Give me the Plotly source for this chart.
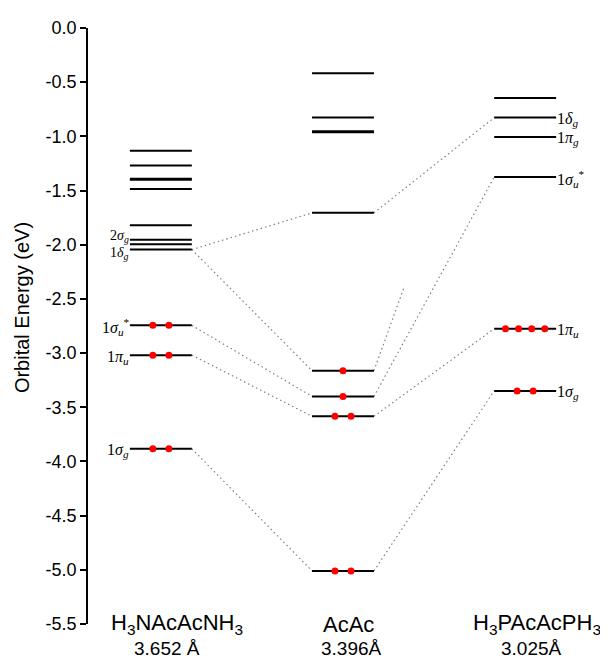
import plotly.graph_objects as go

# ---------------- data ----------------
columns = [1, 2, 3]
col_names = ["H<sub>3</sub>NAcAcNH<sub>3</sub>", "AcAc", "H<sub>3</sub>PAcAcPH<sub>3</sub>"]
col_dist = ["3.652 Å", "3.396Å", "3.025Å"]

left_E = [-1.133, -1.270, -1.390, -1.400, -1.486, -1.820, -1.953, -1.996, -2.045, -2.744, -3.019, -3.883]
left_occ = [0, 0, 0, 0, 0, 0, 0, 0, 0, 2, 2, 2]
mid_E = [-0.418, -0.827, -0.952, -0.963, -1.706, -3.162, -3.400, -3.583, -5.010]
mid_occ = [0, 0, 0, 0, 0, 1, 1, 2, 2]
right_E = [-0.647, -0.827, -1.005, -1.376, -2.775, -3.349]
right_occ = [0, 0, 0, 0, 4, 2]

# correlation lines: (from column, from energy, to column, to energy)
links = [
    (1, -2.045, 2, -1.706),
    (1, -2.045, 2, -3.162),
    (1, -2.744, 2, -3.400),
    (1, -3.019, 2, -3.583),
    (1, -3.883, 2, -5.010),
    (2, -1.706, 3, -0.827),
    (2, -3.400, 3, -1.376),
    (2, -3.583, 3, -2.775),
    (2, -5.010, 3, -3.349),
]
# stray dotted segment starting at AcAc -3.162 and ending mid-air
stray = (2, -3.162, 2.338, -2.38)

left_labels_E = [-1.953, -2.045, -2.744, -3.019, -3.883]
left_labels = ["2<i>σ</i><sub><i>g</i></sub>", "1<i>δ</i><sub><i>g</i></sub>",
               "1<i>σ</i><sub><i>u</i></sub><sup>*</sup>", "1<i>π</i><sub><i>u</i></sub>",
               "1<i>σ</i><sub><i>g</i></sub>"]
right_labels_E = [-0.827, -1.005, -1.376, -2.775, -3.349]
right_labels = ["1<i>δ</i><sub><i>g</i></sub>", "1<i>π</i><sub><i>g</i></sub>",
                "1<i>σ</i><sub><i>u</i></sub><sup>*</sup>", "1<i>π</i><sub><i>u</i></sub>",
                "1<i>σ</i><sub><i>g</i></sub>"]

y_ticks = [0.0, -0.5, -1.0, -1.5, -2.0, -2.5, -3.0, -3.5, -4.0, -4.5, -5.0, -5.5]
y_ticktext = ["0.0", "-0.5", "-1.0", "-1.5", "-2.0", "-2.5", "-3.0", "-3.5", "-4.0", "-4.5", "-5.0", "-5.5"]

# ---------------- figure ----------------
HALF = 0.17
fig = go.Figure()

# dotted correlation lines
lx, ly = [], []
for c1, e1, c2, e2 in links:
    lx += [c1 + HALF, c2 - HALF, None]
    ly += [e1, e2, None]
lx += [stray[0] + HALF, stray[2], None]
ly += [stray[1], stray[3], None]
fig.add_trace(go.Scatter(x=lx, y=ly, mode="lines",
                         line=dict(color="#808080", width=1.2, dash="1.5px,3px"),
                         hoverinfo="skip", showlegend=False))

# levels and electrons
dx, dy = [], []
for col, Es, occs in [(1, left_E, left_occ), (2, mid_E, mid_occ), (3, right_E, right_occ)]:
    xs, ys = [], []
    for e, n in zip(Es, occs):
        xs += [col - HALF, col + HALF, None]
        ys += [e, e, None]
        if n > 0:
            sp = 0.088 if n <= 2 else 0.072
            for k in range(n):
                dx.append(col + (k - (n - 1) / 2) * sp)
                dy.append(e)
    fig.add_trace(go.Scatter(x=xs, y=ys, mode="lines",
                             line=dict(color="black", width=2),
                             hoverinfo="skip", showlegend=False))

fig.add_trace(go.Scatter(x=dx, y=dy, mode="markers",
                         marker=dict(color="#ff0000", size=7),
                         hoverinfo="skip", showlegend=False))

ann = []
serif = "Liberation Serif, Times New Roman, serif"
left_shift = [3, -4, -2, -2, -2]
for i, (e, t) in enumerate(zip(left_labels_E, left_labels)):
    ann.append(dict(x=1 - HALF, y=e, xref="x", yref="y", text=t, showarrow=False,
                    xanchor="right", yanchor="middle", xshift=1, yshift=left_shift[i],
                    font=dict(family=serif, size=14 if i < 2 else 16, color="black")))
for e, t in zip(right_labels_E, right_labels):
    ann.append(dict(x=3 + HALF, y=e, xref="x", yref="y", text=t, showarrow=False,
                    xanchor="left", yanchor="middle", xshift=-1, yshift=-2,
                    font=dict(family=serif, size=16, color="black")))

sans = "Liberation Sans, Arial, sans-serif"
name_x_shift = [16, 5, 12]
dist_x_shift = [6, 8, 6]
for c, nm, ds, sx1, sx2 in zip(columns, col_names, col_dist, name_x_shift, dist_x_shift):
    ann.append(dict(x=c, y=0, xref="x", yref="paper", text=nm, showarrow=False,
                    xanchor="center", yanchor="middle", xshift=sx1, yshift=0,
                    font=dict(family=sans, size=22, color="black")))
    ann.append(dict(x=c, y=0, xref="x", yref="paper", text=ds, showarrow=False,
                    xanchor="center", yanchor="middle", xshift=sx2, yshift=-24,
                    font=dict(family=sans, size=19, color="black")))

ann.append(dict(x=0, y=0.53, xref="paper", yref="paper", text="Orbital Energy (eV)",
                showarrow=False, textangle=-90, xanchor="center", yanchor="middle",
                xshift=-66, font=dict(family=sans, size=20, color="black")))

# page body has an 8px margin, so the figure is shrunk/offset accordingly
fig.update_layout(
    width=600, height=652,
    margin=dict(l=80, r=10, t=14, b=36),
    plot_bgcolor="white", paper_bgcolor="white",
    annotations=ann,
    xaxis=dict(range=[0.6, 3.4], visible=False, fixedrange=True),
    yaxis=dict(range=[-5.5, 0], showgrid=False, zeroline=False,
               showline=True, linecolor="black", linewidth=1.5,
               ticks="outside", ticklen=6, tickwidth=1.5, tickcolor="black",
               tickvals=y_ticks, ticktext=y_ticktext,
               tickfont=dict(family=sans, size=18, color="black")),
)

fig.write_html("out.html")
